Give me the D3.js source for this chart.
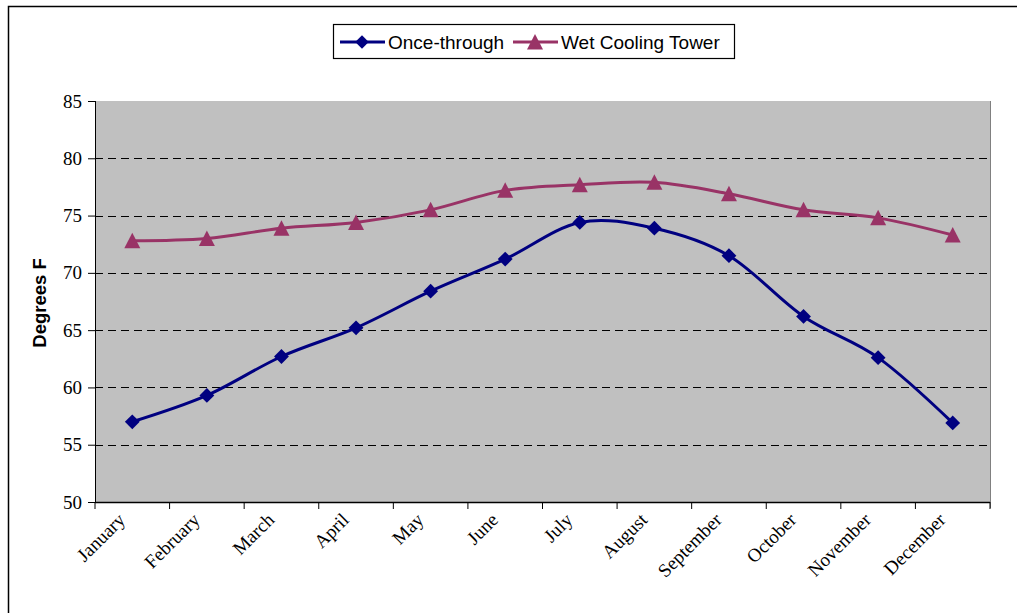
<!DOCTYPE html>
<html>
<head>
<meta charset="utf-8">
<script src="https://cdn.jsdelivr.net/npm/d3@7/dist/d3.min.js"></script>
<style>
body { margin: 0; background: #fff; }
svg { display: block; }
</style>
</head>
<body>
<svg id="chart" width="1017" height="613"></svg>
<script>
const months = ["January","February","March","April","May","June","July","August","September","October","November","December"];
const onceThrough = [57.0, 59.3, 62.7, 65.2, 68.4, 71.2, 74.4, 73.9, 71.5, 66.2, 62.6, 56.9];
const wetCoolingTower = [72.8, 73.0, 73.9, 74.4, 75.5, 77.2, 77.7, 77.9, 76.9, 75.5, 74.8, 73.3];
const yTicks = [50, 55, 60, 65, 70, 75, 80, 85];
const seriesNames = ["Once-through", "Wet Cooling Tower"];
const seriesColors = ["#000080", "#993366"];

const svg = d3.select("#chart");
const pL = 95, pR = 990, pT = 101, pB = 502;
const serif = "'Liberation Serif', 'Times New Roman', serif";
const sans = "'Liberation Sans', Arial, sans-serif";

// outer frame
svg.append("path").attr("d", "M8.5,613 L8.5,6.5 L1017,6.5")
  .attr("fill", "none").attr("stroke", "#000").attr("stroke-width", 1.5);

const x = d3.scaleBand().domain(months).range([pL, pR]).padding(0);
const y = d3.scaleLinear().domain([50, 85]).range([pB, pT]);

// plot background
svg.append("rect").attr("x", pL).attr("y", pT).attr("width", pR - pL).attr("height", pB - pT)
  .attr("fill", "#C0C0C0");

// gridlines
svg.append("g").selectAll("line").data(yTicks.filter(t => t > 50 && t < 85)).join("line")
  .attr("x1", pL).attr("x2", pR)
  .attr("y1", d => Math.round(y(d)) + 0.5).attr("y2", d => Math.round(y(d)) + 0.5)
  .attr("stroke", "#000").attr("stroke-width", 1).attr("stroke-dasharray", "8,5");

// right border of plot
svg.append("line").attr("x1", pR + 0.5).attr("x2", pR + 0.5).attr("y1", pT).attr("y2", pB + 6)
  .attr("stroke", "#808080").attr("stroke-width", 1);

// y axis
const yAxis = svg.append("g").attr("transform", `translate(${pL},0)`)
  .call(d3.axisLeft(y).tickValues(yTicks).tickSize(7).tickPadding(6).tickSizeOuter(0));
yAxis.select(".domain").attr("stroke", "#000");
yAxis.selectAll(".tick line").attr("x2", -7).attr("x1", 1);
yAxis.selectAll("text").attr("font-family", serif)
  .attr("font-size", 19).attr("fill", "#000");

// x axis with ticks at category boundaries
const xa = svg.append("g").attr("transform", `translate(0,${pB})`);
xa.append("line").attr("x1", pL).attr("x2", pR).attr("y1", 0.5).attr("y2", 0.5).attr("stroke", "#000").attr("stroke-width", 1.5);
const boundaries = months.map(m => x(m)).concat([pR]);
xa.selectAll("line.tk").data(boundaries).join("line").attr("class", "tk")
  .attr("x1", d => d).attr("x2", d => d).attr("y1", 0).attr("y2", 7).attr("stroke", "#000");
xa.selectAll("text").data(months).join("text")
  .attr("transform", d => `translate(${x(d) + x.bandwidth() / 2 - 6},${19}) rotate(-45)`)
  .attr("text-anchor", "end")
  .attr("font-family", serif)
  .attr("font-size", 19).attr("fill", "#000")
  .text(d => d);

// y title
svg.append("text").attr("transform", "translate(46,303) rotate(-90)")
  .attr("text-anchor", "middle").attr("font-family", sans)
  .attr("font-weight", "bold").attr("font-size", 18.5).text("Degrees F");

const cx = d => x(d) + x.bandwidth() / 2;
const line = d3.line().x(d => cx(d.m)).y(d => y(d.v)).curve(d3.curveCardinal.tension(0));

const data = [onceThrough, wetCoolingTower].map(arr => arr.map((v, i) => ({ m: months[i], v })));

data.forEach((ser, si) => {
  svg.append("path").datum(ser).attr("d", line).attr("fill", "none")
    .attr("stroke", seriesColors[si]).attr("stroke-width", 3);
});

const triPath = "M0,-8L8,7.5L-8,7.5Z";

svg.append("g").selectAll("path").data(data[0]).join("path")
  .attr("transform", d => `translate(${cx(d.m)},${y(d.v)}) rotate(45)`)
  .attr("d", d3.symbol().type(d3.symbolSquare).size(110)).attr("fill", seriesColors[0]);
svg.append("g").selectAll("path").data(data[1]).join("path")
  .attr("transform", d => `translate(${cx(d.m)},${y(d.v)})`)
  .attr("d", triPath).attr("fill", seriesColors[1]);

// legend
const lg = svg.append("g");
lg.append("rect").attr("x", 333.5).attr("y", 24.5).attr("width", 401).attr("height", 34)
  .attr("fill", "#fff").attr("stroke", "#000").attr("stroke-width", 1.2);
const legendItems = [
  { x0: 340, name: seriesNames[0], color: seriesColors[0], sym: "d" },
  { x0: 513, name: seriesNames[1], color: seriesColors[1], sym: "t" }
];
legendItems.forEach(it => {
  lg.append("line").attr("x1", it.x0).attr("x2", it.x0 + 45).attr("y1", 42).attr("y2", 42)
    .attr("stroke", it.color).attr("stroke-width", 3);
  if (it.sym === "d") {
    lg.append("path").attr("transform", `translate(${it.x0 + 22},42) rotate(45)`)
      .attr("d", d3.symbol().type(d3.symbolSquare).size(90)).attr("fill", it.color);
  } else {
    lg.append("path").attr("transform", `translate(${it.x0 + 22},42)`)
      .attr("d", triPath).attr("fill", it.color);
  }
  lg.append("text").attr("x", it.x0 + 48).attr("y", 48.5)
    .attr("font-family", sans).attr("font-size", 19)
    .attr("fill", "#000").text(it.name);
});
</script>
</body>
</html>
